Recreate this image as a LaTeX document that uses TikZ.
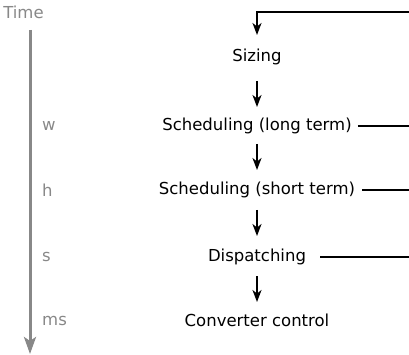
\documentclass[tikz,border=0pt]{standalone}
\usepackage{fontspec}
\setmainfont{DejaVu Sans}
\usetikzlibrary{arrows.meta}
\definecolor{tgray}{HTML}{888888}
\begin{document}
\begin{tikzpicture}[x=1pt,y=-1pt,
  lbl/.style={font=\fontsize{16.5}{19}\selectfont, inner sep=0pt, anchor=center},
  tlbl/.style={lbl, text=tgray},
  tip/.style={-{Stealth[length=12pt,width=9pt,inset=3.5pt]}},
  flow/.style={line width=1.8pt, tip},
  side/.style={line width=1.8pt}]
\useasboundingbox (0,0) rectangle (409,355);
% time axis
\node[tlbl] (time) at (23.5,12) {Time};
\coordinate (tstart) at (30,30);
\coordinate (tend) at (30,354);
\draw[tgray, line width=3pt, -{Stealth[length=17pt,width=12pt,inset=4pt]}] (tstart) -- (tend);
\node[tlbl, anchor=west] (w) at (42,126) {w};
\node[tlbl, anchor=west] (h) at (42,190) {h};
\node[tlbl, anchor=west] (s) at (42,257) {s};
\node[tlbl, anchor=west] (ms) at (42,321) {ms};
% steps
\node[lbl] (siz) at (257,57) {Sizing};
\node[lbl] (slt) at (257,126) {Scheduling (long term)};
\node[lbl] (sst) at (257,190) {Scheduling (short term)};
\node[lbl] (dis) at (257,257) {Dispatching};
\node[lbl] (cc) at (257,320) {Converter control};
% feedback
\coordinate (r0) at (409,12);
\coordinate (c0) at (257,12);
\coordinate (c1) at (257,35);
\draw[side, tip] (r0) -- (c0) -- (c1);
\draw[flow] (257,81) -- (257,107);
\draw[flow] (257,144) -- (257,170);
\draw[flow] (257,210) -- (257,236);
\draw[flow] (257,276) -- (257,302);
\coordinate (r1) at (409,126);
\coordinate (r2) at (409,190);
\coordinate (r3) at (409,257);
\draw[side] ([xshift=6pt]slt.east) -- (r1);
\draw[side] ([xshift=7pt]sst.east) -- (r2);
\draw[side] ([xshift=14pt]dis.east) -- (r3);
\end{tikzpicture}
\end{document}
